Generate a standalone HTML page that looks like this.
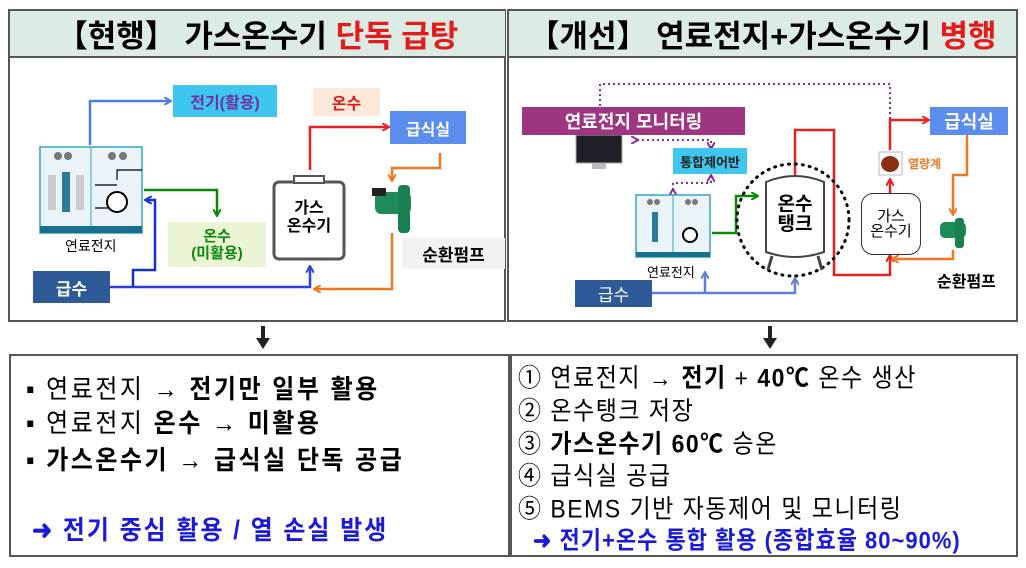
<!DOCTYPE html>
<html><head><meta charset="utf-8"><style>
body{margin:0;width:1026px;height:568px;background:#fff;position:relative;overflow:hidden;font-family:"Liberation Sans","Noto Sans CJK KR",sans-serif}
.a{position:absolute}
.box{position:absolute;display:flex;align-items:center;justify-content:center;font-weight:bold;white-space:nowrap}
.hdr{position:absolute;background:#dcebe4;border-bottom:2px solid #555;display:flex;align-items:center;justify-content:center;font-weight:bold;font-size:31px;color:#000}
.t{position:absolute;white-space:nowrap;font-size:24px;letter-spacing:1.5px;transform:scaleY(1.1);transform-origin:left top}
</style></head><body>
<div class="a" style="left:8px;top:9px;width:498px;height:313px;border:2px solid #555;box-sizing:border-box"></div>
<div class="a" style="left:507px;top:9px;width:511px;height:313px;border:2px solid #555;box-sizing:border-box"></div>
<div class="hdr" style="left:10px;top:11px;width:495px;height:45px">【현행】 가스온수기&nbsp;<span style="color:#e21c1c">단독 급탕</span></div>
<div class="hdr" style="left:509px;top:11px;width:507px;height:45px">【개선】 연료전지+가스온수기&nbsp;<span style="color:#e21c1c">병행</span></div>

<svg class="a" style="left:0;top:0" width="1026" height="568">
<defs>
<marker id="m" markerWidth="8" markerHeight="8" refX="6" refY="4" orient="auto" markerUnits="userSpaceOnUse"><path d="M0,0 L7,4 L0,8" fill="none" stroke="context-stroke" stroke-width="2"/></marker>
</defs>
<g fill="none" stroke-width="2.5">
<path d="M90,145 V101 H170" stroke="#4a7fe0" marker-end="url(#m)"/>
<path d="M144,190 H217 V215" stroke="#0a8a0a" marker-end="url(#m)"/>
<path d="M310,170 V127 H388" stroke="#e82020" marker-end="url(#m)"/>
<path d="M440,153 V168 H392 V180" stroke="#f07820" marker-end="url(#m)"/>
<path d="M392,233 V289 H315" stroke="#f07820" marker-end="url(#m)"/>
<path d="M110,287 H310 V267" stroke="#2a40e0" marker-end="url(#m)"/>
<path d="M133,287 V270 H155 V200 H146" stroke="#1530d0" marker-end="url(#m)"/>
<path d="M600,116 V84 H890 V152" stroke="#8a2aa0" stroke-dasharray="2,3" stroke-width="2" marker-start="url(#m)"/>
<path d="M637,140 H711 V148" stroke="#8a2aa0" stroke-dasharray="2,3" stroke-width="2" marker-start="url(#m)" marker-end="url(#m)"/>
<path d="M673,190 V183 H711 V176" stroke="#8a2aa0" stroke-dasharray="2,3" stroke-width="2" marker-start="url(#m)" marker-end="url(#m)"/>
<path d="M712,233 H736 V196 H757" stroke="#0a8a0a" marker-end="url(#m)"/>
<path d="M795,175 V130 H834 V275 H890 V256" stroke="#e82020" marker-end="url(#m)"/>
<path d="M890,193 V180" stroke="#e82020" marker-end="url(#m)"/>
<path d="M890,150 V120 H928" stroke="#e82020" marker-end="url(#m)"/>
<path d="M967,135 V175 H953 V214" stroke="#f07820" marker-end="url(#m)"/>
<path d="M953,250 V259 H893" stroke="#f07820" marker-end="url(#m)"/>
<path d="M652,293 H795 V279" stroke="#6080d8" marker-end="url(#m)"/>
<path d="M705,293 V273" stroke="#6080d8" marker-end="url(#m)"/>
</g>
<circle cx="793" cy="220" r="56" fill="none" stroke="#000" stroke-width="3" stroke-dasharray="1,6" stroke-linecap="round"/>
<g>
<rect x="40" y="147" width="102" height="86" fill="#eaf4f8" stroke="#3aa0c8" stroke-width="1.5"/>
<rect x="40" y="226" width="102" height="7" fill="#16708e"/>
<line x1="91" y1="147" x2="91" y2="226" stroke="#3aa0c8"/>
<rect x="62" y="172" width="8" height="40" fill="#2a7a9a"/>
<rect x="48" y="175" width="8" height="35" fill="#ccc"/><rect x="76" y="175" width="8" height="35" fill="#ccc"/>
<path d="M95,185 H117 M95,208 H117 M117,180 V170 H142" stroke="#000" stroke-width="1.2" fill="none"/>
<circle cx="117" cy="202" r="10" fill="#fff" stroke="#000" stroke-width="2"/>
<circle cx="58" cy="156" r="4" fill="#777"/><circle cx="68" cy="156" r="4" fill="#777"/><circle cx="112" cy="156" r="4" fill="#777"/><circle cx="123" cy="156" r="4" fill="#777"/>
<rect x="636" y="195" width="74" height="62" fill="#eaf4f8" stroke="#3aa0c8" stroke-width="1.5"/>
<rect x="636" y="252" width="74" height="5" fill="#16708e"/>
<line x1="673" y1="195" x2="673" y2="252" stroke="#3aa0c8"/>
<rect x="652" y="212" width="6" height="30" fill="#2a7a9a"/>
<circle cx="690" cy="235" r="7" fill="#fff" stroke="#000" stroke-width="2"/>
<circle cx="650" cy="202" r="3" fill="#777"/><circle cx="657" cy="202" r="3" fill="#777"/><circle cx="688" cy="202" r="3" fill="#777"/><circle cx="695" cy="202" r="3" fill="#777"/>
</g>
<rect x="274" y="182" width="70" height="77" rx="5" fill="#fff" stroke="#555" stroke-width="3"/>
<rect x="294" y="176" width="30" height="7" fill="#fff" stroke="#555" stroke-width="2"/>
<rect x="375" y="192" width="36" height="22" rx="6" fill="#1f8a5a"/><rect x="398" y="185" width="12" height="48" rx="4" fill="#19804f"/><rect x="372" y="188" width="14" height="8" fill="#222"/>
<rect x="940" y="222" width="26" height="16" rx="5" fill="#1f8a5a"/><rect x="955" y="218" width="9" height="30" rx="3" fill="#19804f"/>
<path d="M766,182 Q795,170 824,182 V252 Q795,262 766,252 Z" fill="#fff" stroke="#444" stroke-width="2"/>
<path d="M772,256 L768,270 M818,256 L822,270" stroke="#444" stroke-width="3"/>
<rect x="576" y="135" width="46" height="28" fill="#1e2228" stroke="#aaa"/>
<rect x="592" y="163" width="14" height="6" fill="#bbb"/>
<rect x="879" y="152" width="23" height="23" fill="#fff" stroke="#bbb"/><ellipse cx="890" cy="164" rx="9" ry="8" fill="#8a3010"/>
<path d="M263,326 V340" stroke="#222" stroke-width="4"/><path d="M256,338 L263,349 L270,338 Z" fill="#222"/>
<path d="M770,326 V340" stroke="#222" stroke-width="4"/><path d="M763,338 L770,349 L777,338 Z" fill="#222"/>
</svg>
<div class="box" style="left:861px;top:193px;width:58px;height:60px;border:1.5px solid #333;border-radius:12px;font-weight:normal;font-size:15px;line-height:15px;text-align:center;background:#fff">가스<br>온수기</div>

<div class="box" style="left:173px;top:85px;width:104px;height:32px;background:#3fc6ee;color:#7030a0;font-size:16px">전기(활용)</div>
<div class="box" style="left:313px;top:88px;width:67px;height:28px;background:#fde9d9;color:#e21c1c;font-size:16px">온수</div>
<div class="box" style="left:390px;top:111px;width:76px;height:33px;background:#5b8def;color:#fff;font-size:16px">급식실</div>
<div class="box" style="left:168px;top:222px;width:98px;height:45px;background:#ebf5d6;color:#0a8a0a;font-size:15px;line-height:17px;text-align:center">온수<br>(미활용)</div>
<div class="box" style="left:276px;top:196px;width:66px;height:44px;font-size:16px;line-height:18px;text-align:center">가스<br>온수기</div>
<div class="box" style="left:402px;top:238px;width:103px;height:31px;background:#f2f2f2;font-size:17px">순환펌프</div>
<div class="box" style="left:33px;top:271px;width:77px;height:32px;background:#2e5a98;color:#fff;font-size:17px">급수</div>
<div class="a" style="left:65px;top:236px;font-size:14px">연료전지</div>

<div class="box" style="left:522px;top:107px;width:223px;height:28px;background:#9e3580;color:#fff;font-size:18px">연료전지 모니터링</div>
<div class="box" style="left:673px;top:148px;width:74px;height:26px;background:#3fc6ee;color:#222;font-size:13px">통합제어반</div>
<div class="box" style="left:930px;top:107px;width:78px;height:28px;background:#5b8def;color:#fff;font-size:18px">급식실</div>
<div class="box" style="left:575px;top:280px;width:77px;height:27px;background:#2e5a98;color:#fff;font-size:17px;font-weight:normal">급수</div>
<div class="box" style="left:770px;top:194px;width:50px;height:42px;font-size:19px;line-height:20px;text-align:center">온수<br>탱크</div>
<div class="a" style="left:908px;top:155px;font-size:12px;color:#f07820;font-weight:bold">열량계</div>
<div class="a" style="left:647px;top:262px;font-size:13px">연료전지</div>
<div class="a" style="left:937px;top:268px;font-size:16px;font-weight:bold">순환펌프</div>

<div class="a" style="left:9px;top:354px;width:501px;height:203px;border:2px solid #555;box-sizing:border-box"></div>
<div class="a" style="left:510px;top:354px;width:508px;height:203px;border:2px solid #555;box-sizing:border-box"></div>
<div class="t" style="left:26px;top:367px;letter-spacing:2.5px">▪ 연료전지 → <b>전기만 일부 활용</b></div>
<div class="t" style="left:26px;top:401px;letter-spacing:2.5px">▪ 연료전지 <b>온수</b> → <b>미활용</b></div>
<div class="t" style="left:26px;top:438px;letter-spacing:2.5px">▪ <b>가스온수기</b> → <b>급식실 단독 공급</b></div>
<div class="t" style="left:32px;top:508px;color:#1a1ad8;font-weight:bold;letter-spacing:2px">➜ 전기 중심 활용 / 열 손실 발생</div>
<div class="t" style="left:518px;top:357px;font-size:23px">① 연료전지 → <b>전기</b> + <b>40℃</b> 온수 생산</div>
<div class="t" style="left:518px;top:390px;font-size:23px">② 온수탱크 저장</div>
<div class="t" style="left:518px;top:423px;font-size:23px">③ <b>가스온수기 60℃</b> 승온</div>
<div class="t" style="left:518px;top:455px;font-size:23px">④ 급식실 공급</div>
<div class="t" style="left:518px;top:488px;font-size:23px">⑤ BEMS 기반 자동제어 및 모니터링</div>
<div class="t" style="left:533px;top:521px;color:#1a1ad8;font-weight:bold;font-size:22px;letter-spacing:1px">➜ 전기+온수 통합 활용 (종합효율 80~90%)</div>
</body></html>
